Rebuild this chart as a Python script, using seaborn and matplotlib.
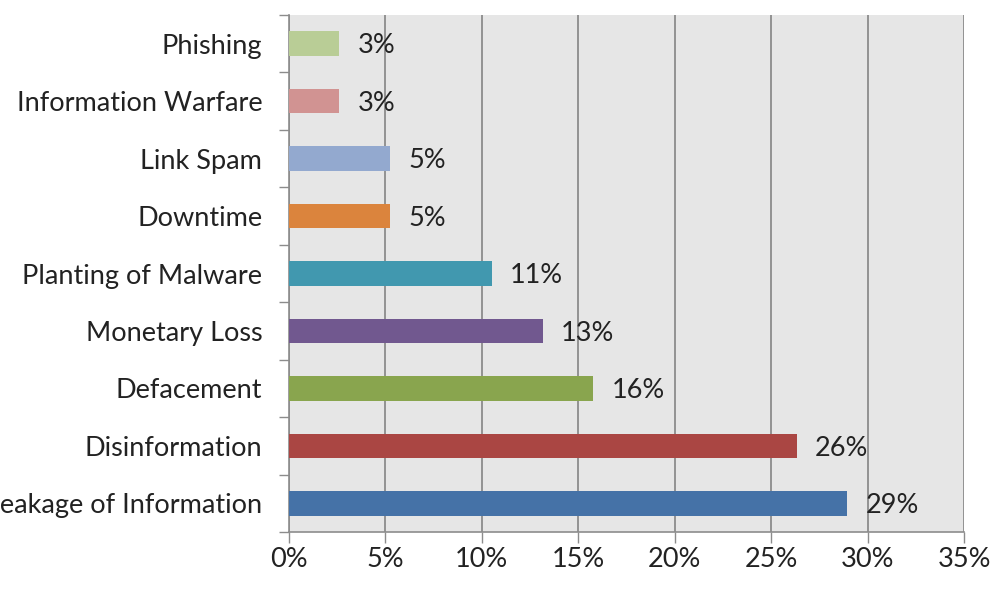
import matplotlib
matplotlib.use("Agg")
import matplotlib.pyplot as plt
import seaborn as sns
import pandas as pd
from matplotlib.ticker import MultipleLocator, PercentFormatter

# Incident types, top to bottom, with counts out of 38 reported incidents
categories = ["Phishing", "Information Warfare", "Link Spam", "Downtime",
              "Planting of Malware", "Monetary Loss", "Defacement",
              "Disinformation", "Leakage of Information"]
counts = [1, 1, 2, 2, 4, 5, 6, 10, 11]
total = 38
colors = ["#b9cd96", "#d19392", "#93a9cf", "#db843d", "#4198af",
          "#71588f", "#89a54e", "#aa4643", "#4572a7"]

shares = [c / total * 100 for c in counts]
df = pd.DataFrame({"category": categories, "share": shares})

sns.set_theme(style="white")
plt.rcParams["font.family"] = ["Lato", "DejaVu Sans"]

fig = plt.figure(figsize=(9.92, 5.92), dpi=100)
ax = fig.add_axes([0.291, 0.101, 0.681, 0.874])
ax.set_facecolor("#e6e6e6")

sns.barplot(data=df, y="category", x="share", hue="category",
            palette=colors, order=categories, hue_order=categories,
            saturation=1, width=0.42, legend=False, ax=ax, zorder=3,
            edgecolor="none", linewidth=0)

for i, v in enumerate(shares):
    ax.text(v + 0.95, i + 0.04, f"{v:.0f}%", va="center", ha="left",
            fontsize=19.5, color="#222222", zorder=4)

ax.set_xlim(0, 35)
ax.set_ylim(len(categories) - 0.5, -0.5)
ax.xaxis.set_major_locator(MultipleLocator(5))
ax.xaxis.set_major_formatter(PercentFormatter(decimals=0))
ax.grid(axis="x", color="#8c8c8c", linewidth=1.3, zorder=1)
ax.set_axisbelow(True)

# category boundaries as ticks on the value axis
ax.set_yticks([i - 0.5 for i in range(len(categories) + 1)], minor=True)
ax.tick_params(axis="y", which="minor", length=7, width=1, color="#8c8c8c",
               direction="out", left=True)
ax.tick_params(axis="y", which="major", length=0, pad=19, labelsize=19.5,
               labelcolor="#222222")
ax.tick_params(axis="x", length=8, width=1, color="#8c8c8c", direction="out",
               bottom=True, pad=3, labelsize=19.5, labelcolor="#222222")

for side in ["top", "right"]:
    ax.spines[side].set_visible(False)
for side in ["left", "bottom"]:
    ax.spines[side].set_color("#8c8c8c")
    ax.spines[side].set_linewidth(1.2)

ax.set_xlabel("")
ax.set_ylabel("")

fig.savefig("out.png", dpi=100)
